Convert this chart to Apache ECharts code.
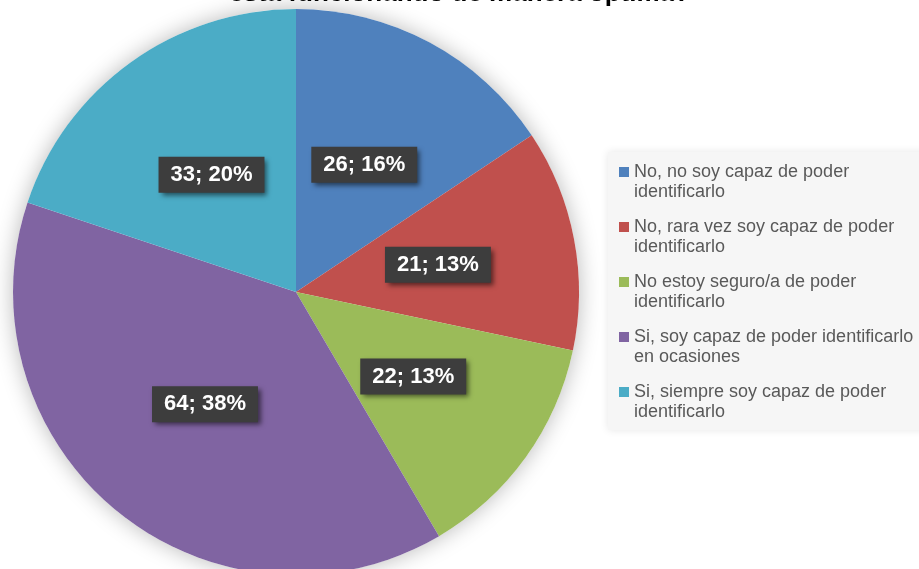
<!DOCTYPE html>
<html>
<head>
<meta charset="utf-8">
<title>Pie chart</title>
<script src="https://cdn.jsdelivr.net/npm/echarts@6/dist/echarts.min.js"></script>
<style>
  html, body { margin: 0; padding: 0; background: #ffffff; }
  #chart { width: 919px; height: 569px; }
</style>
</head>
<body>
<div id="chart"></div>
<script>
// Answer categories, counts and colours
var categories = [
  'No, no soy capaz de poder identificarlo',
  'No, rara vez soy capaz de poder identificarlo',
  'No estoy seguro/a de poder identificarlo',
  'Si, soy capaz de poder identificarlo en ocasiones',
  'Si, siempre soy capaz de poder identificarlo'
];
var legendLines = [
  ['No, no soy capaz de poder', 'identificarlo'],
  ['No, rara vez soy capaz de poder', 'identificarlo'],
  ['No estoy seguro/a de poder', 'identificarlo'],
  ['Si, soy capaz de poder identificarlo', 'en ocasiones'],
  ['Si, siempre soy capaz de poder', 'identificarlo']
];
var counts = [26, 21, 22, 64, 33];
var colors = ['#4f81bd', '#c0504d', '#9bbb59', '#8064a2', '#4bacc6'];
var titleText = 'está funcionando de manera óptima?';

var chart = echarts.init(document.getElementById('chart'), null, { renderer: 'canvas' });

var pieData = categories.map(function (name, i) {
  return { name: name, value: counts[i], itemStyle: { color: colors[i] } };
});
var total = counts.reduce(function (a, b) { return a + b; }, 0);

var pieCenter = [296, 292];
var pieRadius = 283;
var fontFamily = 'Liberation Sans, Arial, sans-serif';

chart.setOption({
  animation: false,
  backgroundColor: '#ffffff',
  title: {
    text: titleText,
    left: 'center',
    top: -24,
    textStyle: {
      fontFamily: fontFamily,
      fontSize: 26,
      fontWeight: 'bold',
      color: '#000000'
    }
  },
  graphic: [{
    type: 'rect',
    z: -1,
    shape: { x: 608, y: 152, width: 330, height: 278 },
    style: {
      fill: '#f6f6f6',
      shadowBlur: 8,
      shadowColor: 'rgba(0,0,0,0.10)'
    },
    silent: true
  }],
  legend: {
    orient: 'vertical',
    left: 619,
    top: 142,
    padding: 0,
    itemGap: -5,
    itemWidth: 10,
    itemHeight: 10,
    icon: 'rect',
    data: categories,
    selectedMode: false,
    // a leading empty line keeps the swatch level with the first text line
    formatter: function (name) {
      var lines = legendLines[categories.indexOf(name)];
      return '\n' + lines.join('\n');
    },
    textStyle: {
      fontFamily: fontFamily,
      fontSize: 18,
      lineHeight: 20,
      color: '#595959'
    }
  },
  series: [
    {
      // soft shadow disc behind the slices
      type: 'pie',
      silent: true,
      z: 1,
      center: pieCenter,
      radius: pieRadius,
      label: { show: false },
      labelLine: { show: false },
      data: [{ name: '', value: total }],
      itemStyle: {
        color: '#ffffff',
        shadowBlur: 22,
        shadowColor: 'rgba(0,0,0,0.28)'
      }
    },
    {
      type: 'pie',
      z: 2,
      center: pieCenter,
      radius: pieRadius,
      startAngle: 90,
      clockwise: true,
      percentPrecision: 0,
      data: pieData,
      labelLine: { show: false },
      label: {
        show: true,
        position: 'inside',
        formatter: '{c}; {d}%',
        fontFamily: fontFamily,
        fontSize: 22,
        fontWeight: 'bold',
        lineHeight: 22,
        color: '#ffffff',
        backgroundColor: '#3d3d3d',
        padding: [7, 12, 7, 12],
        shadowBlur: 5,
        shadowOffsetX: 3,
        shadowOffsetY: 3,
        shadowColor: 'rgba(0,0,0,0.55)'
      },
      emphasis: { disabled: true }
    }
  ]
});
</script>
</body>
</html>
